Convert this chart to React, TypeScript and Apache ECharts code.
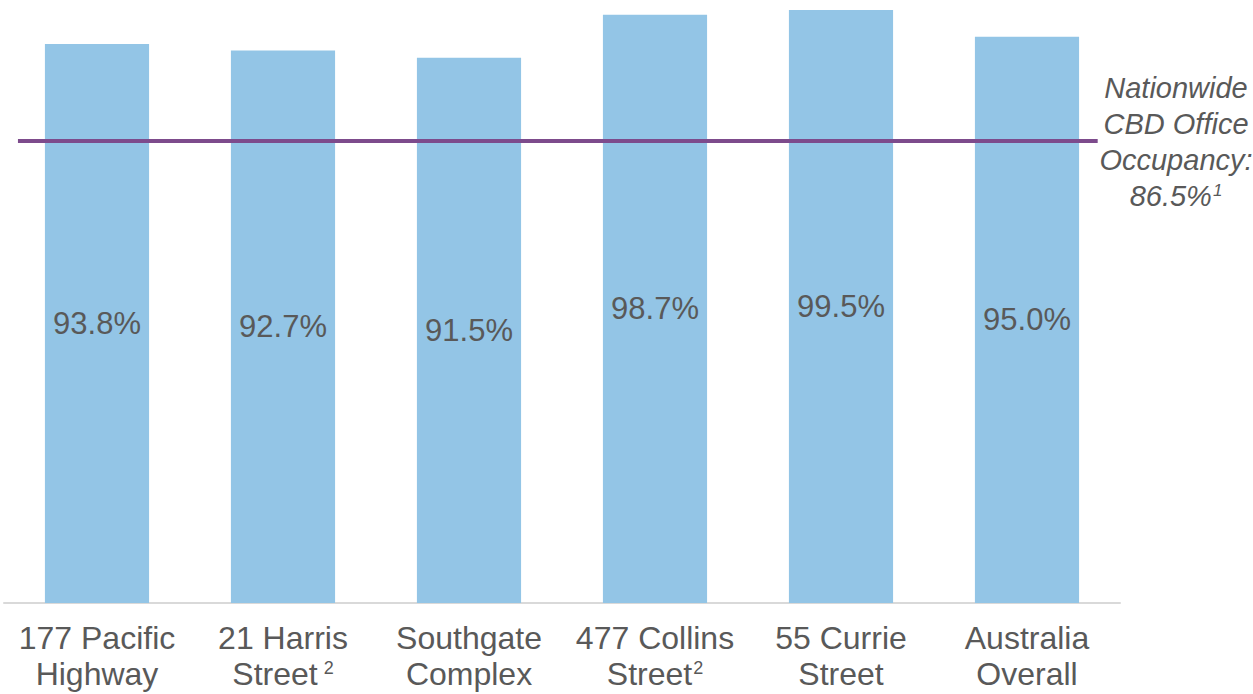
import React, { useEffect, useRef } from "react";
import * as echarts from "echarts";

const categories = [
  "177 Pacific\nHighway",
  "21 Harris\n{t|Street}{sup| 2}",
  "Southgate\nComplex",
  "477 Collins\n{t|Street}{sup|2}",
  "55 Currie\nStreet",
  "Australia\nOverall",
];
const occupancy = [93.8, 92.7, 91.5, 98.7, 99.5, 95.0];
const annotationLines = ["Nationwide", "CBD Office", "Occupancy:"];
const nationwideLabel = "86.5%";
// reference line as drawn in the picture (on the bar scale)
const refLineY = 77.5;
const refLineSpan = [-0.425, 5.38];

const FONT = "'Liberation Sans', Arial, sans-serif";
const TEXT = "#595959";

export default function App() {
  const ref = useRef<HTMLDivElement>(null);
  useEffect(() => {
    document.body.style.margin = "0";
    const chart = echarts.init(ref.current!, null, { renderer: "svg" });
    const annX = 1176;
    const annTop = 88;
    const annStep = 36;
    const graphics: any[] = annotationLines.map((t, i) => ({
      type: "text",
      x: annX,
      y: annTop + i * annStep,
      style: {
        text: t,
        fill: TEXT,
        fontStyle: "italic",
        fontSize: 29,
        fontFamily: FONT,
        align: "center",
        verticalAlign: "middle",
      },
    }));
    graphics.push({
      type: "text",
      x: annX,
      y: annTop + annotationLines.length * annStep,
      style: {
        text: `{v|${nationwideLabel}}{s|1}`,
        fill: TEXT,
        fontStyle: "italic",
        fontSize: 29,
        fontFamily: FONT,
        align: "center",
        verticalAlign: "middle",
        rich: {
          v: { fontStyle: "italic", fontSize: 29, fontFamily: FONT, fill: TEXT, lineHeight: 34 },
          s: { fontStyle: "italic", fontSize: 17, fontFamily: FONT, fill: TEXT, padding: [0, 0, 12, 1] },
        },
      },
    });
    chart.setOption({
      animation: false,
      grid: {
        left: 4,
        right: 133,
        top: 7,
        bottom: 91,
        containLabel: false,
        outerBoundsMode: "none",
      },
      xAxis: [
        {
          type: "category",
          data: categories,
          axisLine: { lineStyle: { color: "#D9D9D9", width: 2 } },
          axisTick: { show: false },
          axisLabel: {
            interval: 0,
            margin: 17,
            color: TEXT,
            fontFamily: FONT,
            fontSize: 32,
            lineHeight: 36,
            rich: {
              t: { fontSize: 32, color: TEXT, fontFamily: FONT, lineHeight: 36 },
              sup: { fontSize: 18, color: TEXT, fontFamily: FONT, padding: [0, 0, 13, 1] },
            },
          },
        },
        { type: "value", min: -0.5, max: 5.5, show: false },
      ],
      yAxis: { type: "value", min: 0, max: 100, show: false },
      series: [
        {
          type: "bar",
          data: occupancy,
          barWidth: "56%",
          itemStyle: { color: "#93C5E6" },
          label: {
            show: true,
            position: "inside",
            formatter: (p: any) => p.value.toFixed(1) + "%",
            color: TEXT,
            fontFamily: FONT,
            fontSize: 31,
          },
        },
        {
          type: "line",
          xAxisIndex: 1,
          data: [
            [refLineSpan[0], refLineY],
            [refLineSpan[1], refLineY],
          ],
          symbol: "none",
          lineStyle: { color: "#7D4B8C", width: 4 },
          z: 5,
        },
      ],
      graphic: graphics,
    });
    return () => chart.dispose();
  }, []);
  return (
    <div ref={ref} style={{ position: "absolute", left: 0, top: 0, width: 1253, height: 694 }} />
  );
}
